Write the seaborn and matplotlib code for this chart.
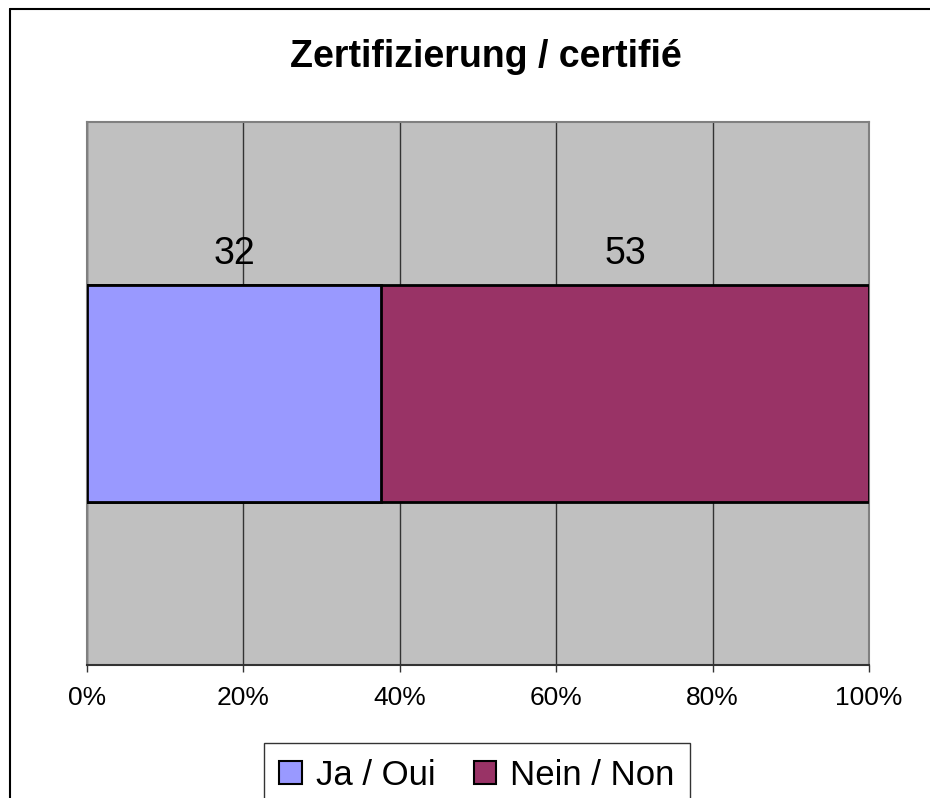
import pandas as pd
import matplotlib
matplotlib.use("Agg")
import matplotlib.pyplot as plt
from matplotlib.patches import Patch
from matplotlib.lines import Line2D
import seaborn as sns

# data
answers = ['Ja / Oui', 'Nein / Non']
counts = [32, 53]
colors = ['#9999FF', '#993366']
ticks = [0, 0.2, 0.4, 0.6, 0.8, 1.0]
tick_labels = ['0%', '20%', '40%', '60%', '80%', '100%']

sns.set_style('white')
plt.rcParams['font.family'] = ['Liberation Sans', 'DejaVu Sans']
plt.rcParams['text.color'] = 'black'
plt.rcParams['xtick.color'] = 'black'
plt.rcParams['axes.labelcolor'] = 'black'

df = pd.DataFrame({'answer': answers, 'count': counts, 'color': colors})
df['share'] = df['count'] / df['count'].sum()
df['end'] = df['share'].cumsum()
df['start'] = df['end'] - df['share']
df['row'] = ''

fig = plt.figure(figsize=(9.3, 7.98), dpi=100)
ax = fig.add_axes([87/930, 1-665/798, (869-87)/930, (665-122)/798])
ax.set_facecolor('#C0C0C0')

# stacked bars: draw the longest (cumulative) first
for i in reversed(range(len(df))):
    sns.barplot(data=df.iloc[[i]], x='end', y='row', orient='h', color=df['color'][i],
                saturation=1, width=0.4, edgecolor='black', linewidth=2, ax=ax, zorder=3)

ax.set_ylim(-0.5, 0.5)
ax.set_xlim(0, 1)
ax.set_xticks(ticks)
ax.set_xticklabels(tick_labels, fontsize=19)
ax.set_yticks([])
ax.set_xlabel('')
ax.set_ylabel('')
ax.grid(axis='x', color='#333333', linewidth=1)
ax.set_axisbelow(True)
ax.tick_params(axis='x', bottom=True, length=5, width=1, color='#333333', pad=10)
for s in ['top', 'left', 'right']:
    ax.spines[s].set_color('#808080')
    ax.spines[s].set_linewidth(1.5)
ax.spines['bottom'].set_color('#333333')
ax.spines['bottom'].set_linewidth(1.5)

# value labels above each segment
for _, r in df.iterrows():
    ax.text((r['start'] + r['end']) / 2, 0.239, str(r['count']), ha='center', va='baseline',
            fontsize=27, color='black')

fig.text(486/930, 1-67/798, 'Zertifizierung / certifié', ha='center', va='baseline',
         fontsize=27, fontweight='bold')

handles = [Patch(facecolor=c, edgecolor='black', linewidth=1.5, label=a) for a, c in zip(answers, colors)]
leg = fig.legend(handles=handles, loc='upper center', bbox_to_anchor=(477/930, 1-743/798),
                 ncol=2, fontsize=25, frameon=True, fancybox=False, edgecolor='black',
                 handlelength=0.65, handleheight=0.65, handletextpad=0.4, columnspacing=1.1,
                 borderpad=0.45, borderaxespad=0)
leg.get_frame().set_linewidth(1)

# outer chart border (left and top visible)
fig.add_artist(Line2D([10/930, 10/930], [0, 1-9/798], color='black', linewidth=1.5))
fig.add_artist(Line2D([10/930, 1], [1-9/798, 1-9/798], color='black', linewidth=1.5))

fig.savefig('out.png', dpi=100)
